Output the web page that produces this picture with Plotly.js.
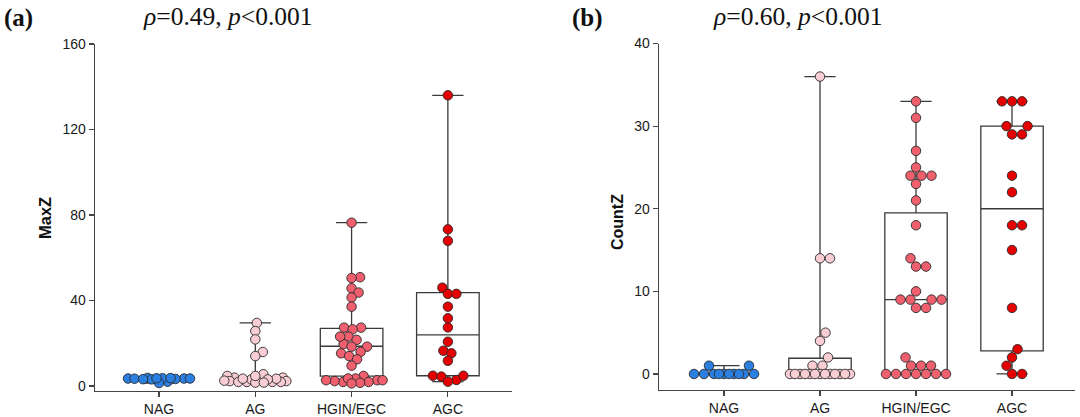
<!DOCTYPE html>
<html>
<head>
<meta charset="utf-8">
<script src="https://cdn.plot.ly/plotly-3.0.1.min.js"></script>
<style>html,body{margin:0;padding:0;background:#fff;}#chart{width:1080px;height:417px;}</style>
</head>
<body>
<div id="chart"></div>
<script>
// ---------- data ----------
const CATEGORIES = ['NAG', 'AG', 'HGIN/EGC', 'AGC'];
const COLORS = ['#2A7FE0', '#F8CDD4', '#EF5F6E', '#E40000'];

// Panel (a): MaxZ
const MAXZ_NAG = [3.5, 3.8, 3.3, 2.0, 3.5, 3.6, 3.1, 1.4, 3.4, 3.5, 3.7, 3.2, 3.6];
const MAXZ_AG = [29.5, 25.7, 21.8, 15.9, 14.0, 3.9, 1.9, 3.1, 4.7, 2.3, 1.9, 3.9, 1.9, 5.5, 3.1, 3.4, 2.3, 1.9, 1.6, 3.4, 3.1, 4.7, 1.6, 2.5];
const MAXZ_HGIN = [76.4, 50.9, 50.5, 45.7, 43.7, 41.4, 37.1, 27.3, 27.3, 26.5, 23.1, 21.6, 19.6, 23.1, 18.4, 18.4, 16.0, 15.3, 14.0, 12.5, 9.5,
                   1.9, 4.7, 2.7, 3.5, 1.9, 3.5, 1.5, 2.3, 1.2, 2.7, 2.7];
const MAXZ_AGC = [136.0, 73.3, 67.9, 46.0, 43.1, 43.1, 37.1, 31.7, 27.4, 20.7, 16.5, 15.3, 11.8, 2.8, 4.8, 4.4, 4.8, 2.0];
const MAXZ_Q1 = [3.0, 2.1, 4.6, 4.8];
const MAXZ_MEDIAN = [3.4, 3.1, 18.6, 23.9];
const MAXZ_Q3 = [3.6, 4.3, 27.0, 43.7];

// Panel (b): CountZ
const COUNTZ_NAG = [1, 1, 0, 0, 0, 0, 0, 0, 0, 0, 0, 0];
const COUNTZ_AG = [36, 14, 14, 5, 4, 2, 1, 1, 0, 0, 0, 0, 0, 0, 0, 0, 0, 0, 0, 0, 0];
const COUNTZ_HGIN = [33, 31, 27, 25, 24, 24, 24, 23, 21, 18, 14, 13, 13, 10, 9, 9, 9, 9, 8, 8, 2, 1, 1, 1, 0, 0, 0, 0, 0, 0, 0];
const COUNTZ_AGC = [33, 33, 33, 30, 30, 29, 29, 24, 22, 18, 18, 15, 8, 3, 2, 1, 0, 0];
const COUNTZ_Q1 = [0, 0, 0, 2.8];
const COUNTZ_MEDIAN = [0, 0, 9, 20];
const COUNTZ_Q3 = [0, 1.9, 19.5, 30];

const MAXZ_TICKS = [0, 40, 80, 120, 160];
const COUNTZ_TICKS = [0, 10, 20, 30, 40];

// ---------- geometry ----------
const W = 1080, H = 417;
const PA = {left: 95, right: 512, top: 44, bottom: 391, xr: [-0.665, 3.666], yr: [-2.34, 160], gap: 8.2};
const PB = {left: 659, right: 1075, top: 43.5, bottom: 390, xr: [-0.677, 3.656], yr: [-1.94, 40], gap: 9.8};

function scales(p) {
  return {
    x: (p.right - p.left) / (p.xr[1] - p.xr[0]),
    y: (p.bottom - p.top) / (p.yr[1] - p.yr[0])
  };
}

// simple beeswarm in pixel space (points may overlap a little, as in the source)
function swarm(vals, ys, xs, d, wmax) {
  const idx = vals.map((v, i) => i).sort((a, b) => vals[a] - vals[b]);
  const placed = [];
  const off = new Array(vals.length);
  const step = 0.5;
  for (const i of idx) {
    const y = vals[i] * ys;
    let chosen = null, best = -1, bestOff = 0;
    const nk = Math.round(2 * wmax / step);
    for (let k = 0; k <= nk; k++) {
      const o = (k % 2 === 1 ? 1 : -1) * Math.ceil(k / 2) * step;
      let m = Infinity;
      for (const p of placed) {
        const dd = Math.hypot(o - p[0], y - p[1]);
        if (dd < m) m = dd;
      }
      if (m >= d) { chosen = o; break; }
      if (m > best) { best = m; bestOff = o; }
    }
    if (chosen === null) chosen = bestOff;
    placed.push([chosen, y]);
    off[i] = chosen / xs;
  }
  return off;
}

function panelTraces(groups, q1, med, q3, p, xa, ya) {
  const s = scales(p);
  const traces = [];
  traces.push({
    type: 'box', xaxis: xa, yaxis: ya,
    x: [0, 1, 2, 3],
    q1: q1, median: med, q3: q3,
    lowerfence: groups.map(g => Math.min(...g)),
    upperfence: groups.map(g => Math.max(...g)),
    width: 0.65, whiskerwidth: 0.5,
    boxpoints: false,
    fillcolor: 'rgba(255,255,255,0)',
    line: {color: '#3a3a3a', width: 1.3},
    hoverinfo: 'skip', showlegend: false
  });
  groups.forEach((g, gi) => {
    const off = swarm(g, s.y, s.x, p.gap, 31);
    traces.push({
      type: 'scatter', mode: 'markers', xaxis: xa, yaxis: ya,
      x: g.map((v, i) => gi + off[i]), y: g,
      marker: {size: 9.5, color: COLORS[gi], line: {color: '#2a2a2a', width: 0.9}},
      hoverinfo: 'skip', showlegend: false, cliponaxis: false
    });
  });
  return traces;
}

const data = [
  ...panelTraces([MAXZ_NAG, MAXZ_AG, MAXZ_HGIN, MAXZ_AGC], MAXZ_Q1, MAXZ_MEDIAN, MAXZ_Q3, PA, 'x', 'y'),
  ...panelTraces([COUNTZ_NAG, COUNTZ_AG, COUNTZ_HGIN, COUNTZ_AGC], COUNTZ_Q1, COUNTZ_MEDIAN, COUNTZ_Q3, PB, 'x2', 'y2')
];

const sans = 'Arial, Liberation Sans, sans-serif';
const serif = 'Times New Roman, Liberation Serif, serif';
const tickFont = {family: sans, size: 14, color: '#1a1a1a'};
function xaxis(p) {
  return {
    domain: [p.left / W, p.right / W], range: p.xr,
    tickmode: 'array', tickvals: [0, 1, 2, 3], ticktext: CATEGORIES,
    ticks: 'outside', ticklen: 5, tickwidth: 1.2, tickcolor: '#444',
    showline: true, linecolor: '#444', linewidth: 1.3,
    showgrid: false, zeroline: false, tickfont: tickFont, fixedrange: true
  };
}
function yaxis(p, ticks, anchor) {
  return {
    domain: [1 - p.bottom / H, 1 - p.top / H], range: p.yr, anchor: anchor,
    tickmode: 'array', tickvals: ticks,
    ticks: 'outside', ticklen: 5, tickwidth: 1.2, tickcolor: '#444',
    showline: true, linecolor: '#444', linewidth: 1.3,
    showgrid: false, zeroline: false, tickfont: tickFont, fixedrange: true
  };
}

const layout = {
  width: W, height: H,
  margin: {l: 0, r: 0, t: 0, b: 0},
  paper_bgcolor: '#fff', plot_bgcolor: 'rgba(0,0,0,0)',
  showlegend: false,
  xaxis: Object.assign(xaxis(PA), {anchor: 'y'}),
  yaxis: yaxis(PA, MAXZ_TICKS, 'x'),
  xaxis2: Object.assign(xaxis(PB), {anchor: 'y2'}),
  yaxis2: yaxis(PB, COUNTZ_TICKS, 'x2'),
  annotations: [
    {text: '<b>(a)</b>', x: 2 / W, y: 1 - 18 / H, xref: 'paper', yref: 'paper', xanchor: 'left', yanchor: 'middle', showarrow: false, font: {family: serif, size: 25, color: '#111'}},
    {text: '<i>ρ</i>=0.49, <i>p</i>&lt;0.001', x: 228 / W, y: 1 - 17 / H, xref: 'paper', yref: 'paper', xanchor: 'center', yanchor: 'middle', showarrow: false, font: {family: serif, size: 25.5, color: '#111'}},
    {text: '<b>(b)</b>', x: 570 / W, y: 1 - 18 / H, xref: 'paper', yref: 'paper', xanchor: 'left', yanchor: 'middle', showarrow: false, font: {family: serif, size: 25, color: '#111'}},
    {text: '<i>ρ</i>=0.60, <i>p</i>&lt;0.001', x: 798 / W, y: 1 - 17 / H, xref: 'paper', yref: 'paper', xanchor: 'center', yanchor: 'middle', showarrow: false, font: {family: serif, size: 25.5, color: '#111'}},
    {text: '<b>MaxZ</b>', x: 45 / W, y: 1 - 218 / H, xref: 'paper', yref: 'paper', xanchor: 'center', yanchor: 'middle', textangle: -90, showarrow: false, font: {family: sans, size: 16.5, color: '#111'}},
    {text: '<b>CountZ</b>', x: 617 / W, y: 1 - 222 / H, xref: 'paper', yref: 'paper', xanchor: 'center', yanchor: 'middle', textangle: -90, showarrow: false, font: {family: sans, size: 16, color: '#111'}}
  ]
};

Plotly.newPlot('chart', data, layout, {staticPlot: true, displayModeBar: false});
</script>
</body>
</html>
